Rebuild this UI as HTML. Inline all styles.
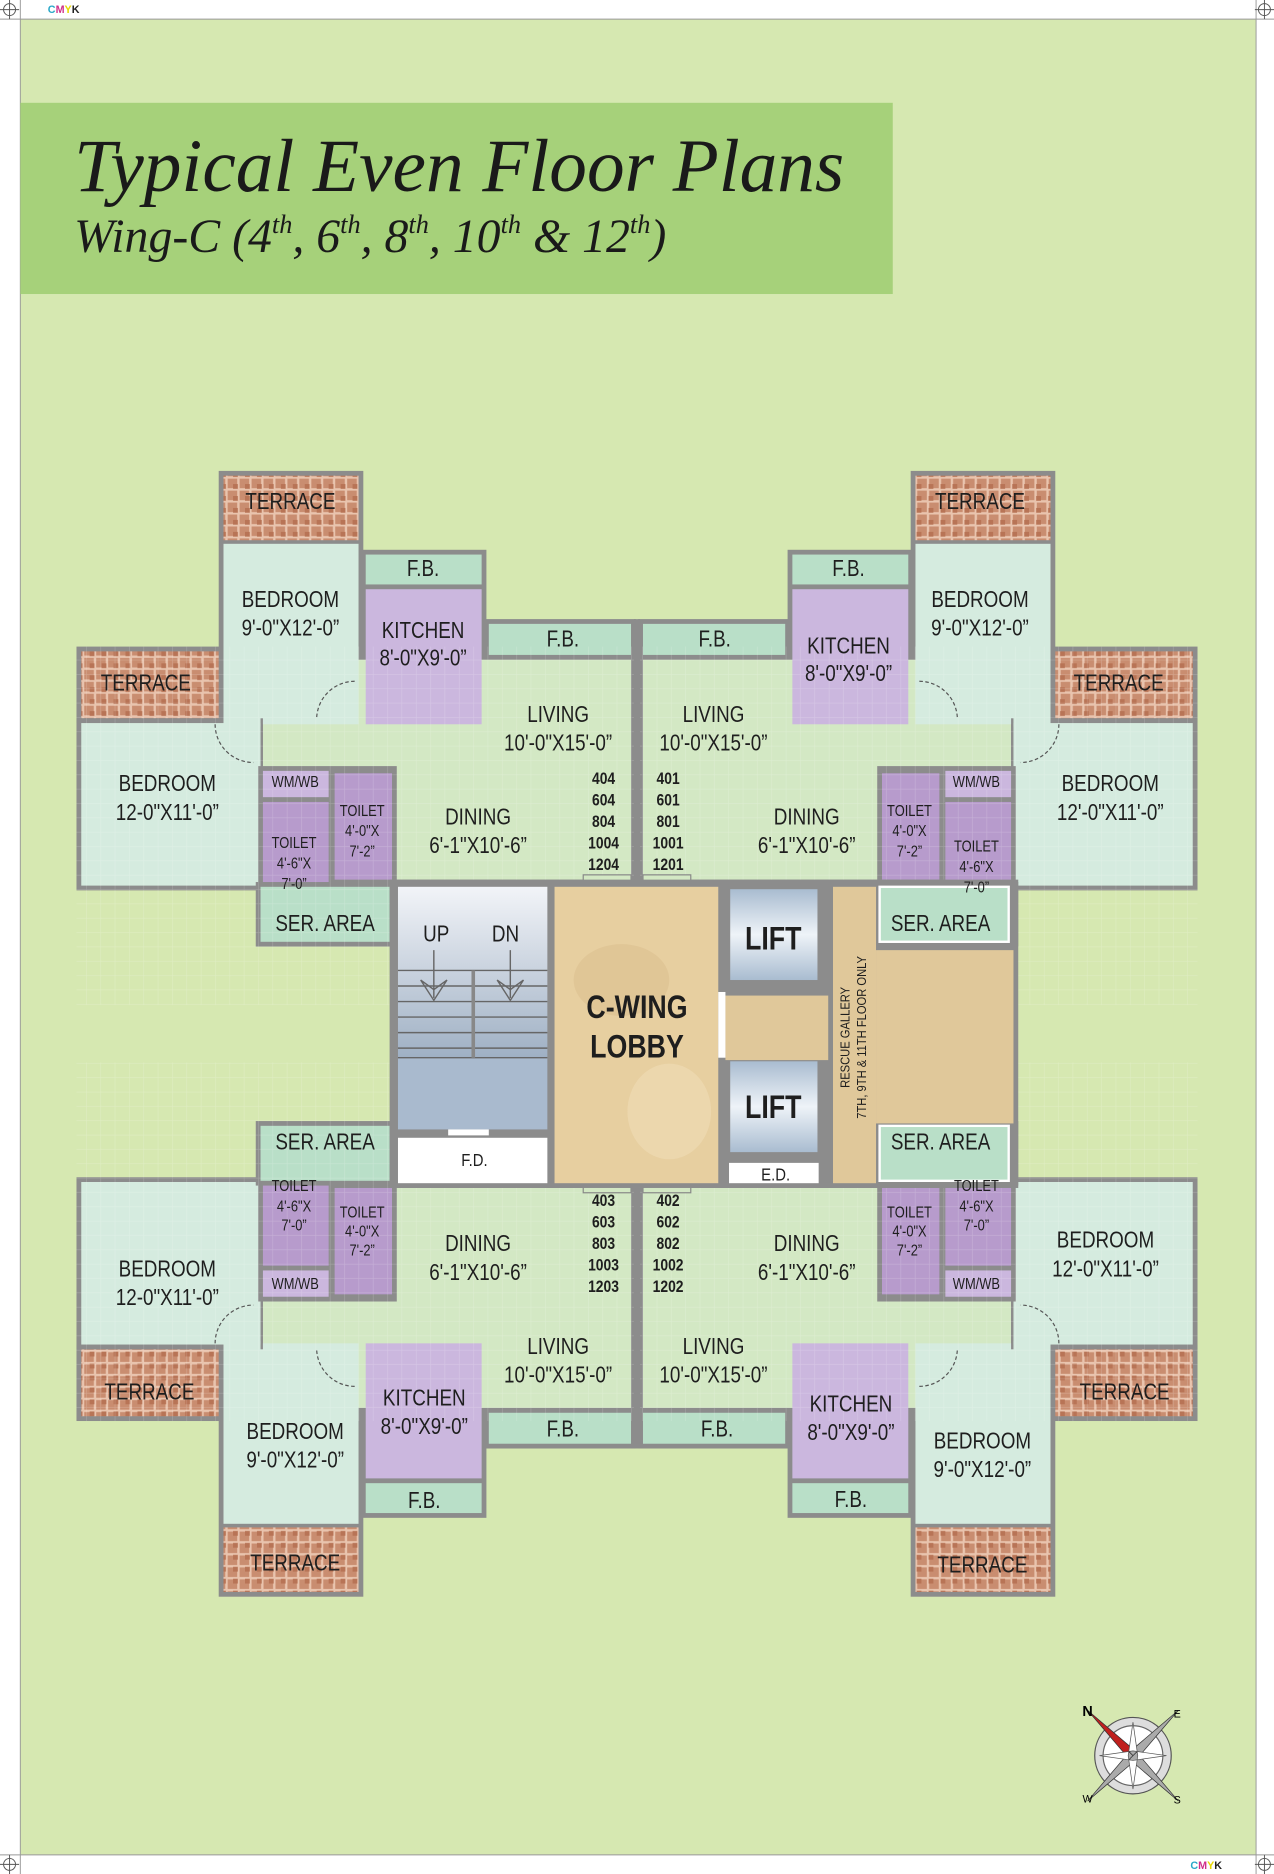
<!DOCTYPE html>
<html><head><meta charset="utf-8"><style>
html,body{margin:0;padding:0;background:#fff}
svg{display:block}
.t text{font-family:"Liberation Sans",sans-serif;fill:#1e1e1e;text-anchor:middle;dominant-baseline:central}
.t text.n{transform-box:fill-box;transform-origin:center;transform:scaleX(0.83)}
.s{font-size:19px}.m{font-size:15px}.xs{font-size:13px}
.b{font-weight:bold;font-size:14px}
</style></head><body>
<svg width="1274" height="1874" viewBox="0 0 1066 1568" xmlns="http://www.w3.org/2000/svg">
<defs>
<pattern id="tile" width="10" height="10" patternUnits="userSpaceOnUse">
<rect width="10" height="10" fill="#e9c4ae"/><rect x="0.5" y="0.5" width="8" height="8" fill="#c98d70"/><rect x="5" y="5" width="4" height="4" fill="#b87456"/>
</pattern>
<pattern id="grid" width="12" height="12" patternUnits="userSpaceOnUse">
<path d="M12 0H0V12" fill="none" stroke="#ffffff" stroke-opacity="0.35" stroke-width="1"/>
</pattern>
<linearGradient id="lift" x1="0" y1="0" x2="0" y2="1"><stop offset="0" stop-color="#a9bcd0"/><stop offset="0.5" stop-color="#eef3f8"/><stop offset="1" stop-color="#a9bcd0"/></linearGradient>
<linearGradient id="st" x1="0" y1="0" x2="0" y2="1"><stop offset="0" stop-color="#f2f4f8"/><stop offset="1" stop-color="#9fb0c4"/></linearGradient>
<g id="u">
<rect x="183" y="394" width="121" height="214" fill="#8c8c8c"/>
<rect x="302" y="460" width="105" height="150" fill="#8c8c8c"/>
<rect x="405" y="518" width="127" height="36" fill="#8c8c8c"/>
<rect x="409" y="522" width="119" height="26" fill="#b9dfc8"/>
<rect x="216" y="548" width="316" height="192" fill="#8c8c8c"/>
<rect x="220" y="552" width="308" height="184" fill="#d3e8c4"/>
<rect x="187" y="398" width="113" height="54" fill="url(#tile)"/>
<rect x="187" y="455" width="113" height="151" fill="#d5ebdf"/>
<rect x="306" y="464" width="97" height="25" fill="#b9dfc8"/>
<rect x="306" y="493" width="97" height="113" fill="#cbb7de"/>
<rect x="64" y="541" width="123" height="64" fill="#8c8c8c"/>
<rect x="68" y="545" width="115" height="56" fill="url(#tile)"/>
<rect x="64" y="601" width="156" height="144" fill="#8c8c8c"/>
<rect x="68" y="605" width="150" height="136" fill="#d5ebdf"/>
<rect x="187" y="545" width="31" height="63" fill="#d5ebdf"/>
<rect x="216" y="641" width="116" height="116" fill="#8c8c8c"/>
<rect x="220" y="645" width="55" height="22" fill="#cbb7de"/>
<rect x="220" y="671" width="55" height="82" fill="#b79bcc"/>
<rect x="280" y="647" width="48" height="89" fill="#b79bcc"/>
<rect x="214" y="738" width="116" height="54" fill="#8c8c8c"/>
<rect x="218" y="742" width="108" height="46" fill="#b9dfc8"/>
<rect x="64" y="541" width="468" height="300" fill="url(#grid)" opacity="0.6"/>
<path d="M265 600 A32 32 0 0 1 297 570" fill="none" stroke="#555" stroke-dasharray="3 2"/>
<path d="M180 606 A32 32 0 0 0 212 638" fill="none" stroke="#555" stroke-dasharray="3 2"/>
<rect x="488" y="732" width="40" height="10" fill="#d3e8c4" stroke="#888"/>
</g>
</defs>
<rect width="1066" height="1568" fill="#fff"/>
<rect x="17" y="16" width="1034" height="1536" fill="#d6e8b1"/>
<line x1="17" y1="0" x2="17" y2="1568" stroke="#999" stroke-width="0.8"/>
<line x1="1051" y1="0" x2="1051" y2="1568" stroke="#999" stroke-width="0.8"/>
<line x1="0" y1="16" x2="1066" y2="16" stroke="#999" stroke-width="0.8"/>
<line x1="0" y1="1552" x2="1066" y2="1552" stroke="#999" stroke-width="0.8"/>
<g fill="none" stroke="#555" stroke-width="0.8">
<circle cx="8" cy="8" r="5"/><path d="M0 8H16M8 0V16"/>
<circle cx="1058" cy="8" r="5"/><path d="M1050 8H1066M1058 0V16"/>
<circle cx="8" cy="1560" r="5"/><path d="M0 1560H16M8 1552V1568"/>
<circle cx="1058" cy="1560" r="5"/><path d="M1050 1560H1066M1058 1552V1568"/>
</g>
<text x="40" y="11" font-family="Liberation Sans" font-weight="bold" font-size="9"><tspan fill="#2aa8c8">C</tspan><tspan fill="#d0308a">M</tspan><tspan fill="#e8d800">Y</tspan><tspan fill="#222">K</tspan></text>
<text x="996" y="1564" font-family="Liberation Sans" font-weight="bold" font-size="9"><tspan fill="#2aa8c8">C</tspan><tspan fill="#d0308a">M</tspan><tspan fill="#e8d800">Y</tspan><tspan fill="#222">K</tspan></text>

<rect x="17" y="86" width="730" height="160" fill="#a6d17a"/>
<text x="62" y="160" font-family="Liberation Serif" font-style="italic" font-size="63" fill="#1a1a1a">Typical Even Floor Plans</text>
<text x="62" y="211" font-family="Liberation Serif" font-style="italic" font-size="40" fill="#1a1a1a">Wing-C (4<tspan font-size="22" dy="-16">th</tspan><tspan dy="16">, 6</tspan><tspan font-size="22" dy="-16">th</tspan><tspan dy="16">, 8</tspan><tspan font-size="22" dy="-16">th</tspan><tspan dy="16">, 10</tspan><tspan font-size="22" dy="-16">th</tspan><tspan dy="16"> &amp; 12</tspan><tspan font-size="22" dy="-16">th</tspan><tspan dy="16">)</tspan></text>

<use href="#u"/>
<use href="#u" transform="matrix(-1 0 0 1 1066 0)"/>
<use href="#u" transform="matrix(1 0 0 -1 0 1730)"/>
<use href="#u" transform="matrix(-1 0 0 -1 1066 1730)"/>
<line x1="533" y1="518" x2="533" y2="1212" stroke="#8c8c8c" stroke-width="5"/>

<rect x="326" y="736" width="526" height="258" fill="#8c8c8c"/>
<rect x="333" y="742" width="125" height="143" fill="url(#st)"/>
<rect x="333" y="885" width="125" height="60" fill="#a9bace"/>
<g stroke="#666" stroke-width="1.2">
<line x1="333" y1="812" x2="458" y2="812"/><line x1="333" y1="825" x2="458" y2="825"/><line x1="333" y1="838" x2="458" y2="838"/><line x1="333" y1="851" x2="458" y2="851"/><line x1="333" y1="864" x2="458" y2="864"/><line x1="333" y1="877" x2="458" y2="877"/><line x1="333" y1="885" x2="458" y2="885"/>
<line x1="396" y1="812" x2="396" y2="885" stroke-width="3" stroke="#888"/>
<line x1="363" y1="795" x2="363" y2="835"/><path d="M352 820 L363 837 L374 820 L363 828Z" fill="none"/>
<line x1="427" y1="795" x2="427" y2="835"/><path d="M416 820 L427 837 L438 820 L427 828Z" fill="none"/>
</g>
<rect x="333" y="952" width="125" height="38" fill="#fff"/>
<rect x="375" y="945" width="34" height="5" fill="#fff"/>
<rect x="464" y="742" width="137" height="248" fill="#e7cfa0"/>
<ellipse cx="520" cy="820" rx="40" ry="30" fill="#dcc090" opacity="0.6"/>
<ellipse cx="560" cy="930" rx="35" ry="40" fill="#f0dcb6" opacity="0.6"/>
<rect x="607" y="833" width="86" height="54" fill="#e0c89a"/>
<rect x="697" y="742" width="36" height="248" fill="#e0c89a"/>
<rect x="733" y="795" width="115" height="145" fill="#e0c89a"/>
<rect x="611" y="744" width="73" height="76" fill="url(#lift)"/>
<rect x="611" y="888" width="73" height="76" fill="url(#lift)"/>
<rect x="610" y="973" width="75" height="17" fill="#fff"/>
<rect x="601" y="830" width="6" height="55" fill="#fff"/>
<rect x="736" y="742" width="108" height="46" fill="#b9dfc8" stroke="#fff" stroke-width="2"/>
<rect x="736" y="942" width="108" height="46" fill="#b9dfc8" stroke="#fff" stroke-width="2"/>

<g class="t">
<text x="365" y="782" class="s n">UP</text><text x="423" y="782" class="s n">DN</text>
<text x="397" y="971" class="m n">F.D.</text><text x="649" y="983" class="m n">E.D.</text>
<text x="533" y="843" font-size="27" font-weight="bold" class="n">C-WING</text>
<text x="533" y="876" font-size="27" font-weight="bold" class="n">LOBBY</text>
<text x="647" y="786" font-size="27" font-weight="bold" class="n">LIFT</text>
<text x="647" y="927" font-size="27" font-weight="bold" class="n">LIFT</text>
<text transform="translate(707 868) rotate(-90) scale(0.85 1)" font-size="11">RESCUE GALLERY</text>
<text transform="translate(721 868) rotate(-90) scale(0.85 1)" font-size="11">7TH, 9TH &amp; 11TH FLOOR ONLY</text>

<text x="243" y="420" class="s n">TERRACE</text><text x="243" y="502" class="s n">BEDROOM</text><text x="243" y="526" class="s n">9'-0"X12'-0”</text>
<text x="354" y="476" class="s n">F.B.</text><text x="354" y="528" class="s n">KITCHEN</text><text x="354" y="551" class="s n">8'-0"X9'-0”</text>
<text x="471" y="535" class="s n">F.B.</text><text x="122" y="572" class="s n">TERRACE</text>
<text x="467" y="598" class="s n">LIVING</text><text x="467" y="622" class="s n">10'-0"X15'-0”</text>
<text x="140" y="656" class="s n">BEDROOM</text><text x="140" y="680" class="s n">12-0"X11'-0”</text>
<text x="247" y="655" class="xs n">WM/WB</text>
<text x="303" y="679" class="xs n">TOILET</text><text x="303" y="696" class="xs n">4'-0"X</text><text x="303" y="713" class="xs n">7'-2”</text>
<text x="246" y="706" class="xs n">TOILET</text><text x="246" y="723" class="xs n">4'-6"X</text><text x="246" y="740" class="xs n">7'-0”</text>
<text x="400" y="684" class="s n">DINING</text><text x="400" y="708" class="s n">6'-1"X10'-6”</text>
<text x="505" y="652" class="b n">404</text><text x="505" y="670" class="b n">604</text><text x="505" y="688" class="b n">804</text><text x="505" y="706" class="b n">1004</text><text x="505" y="724" class="b n">1204</text>
<text x="272" y="773" class="s n">SER. AREA</text>

<text x="820" y="420" class="s n">TERRACE</text><text x="820" y="502" class="s n">BEDROOM</text><text x="820" y="526" class="s n">9'-0"X12'-0”</text>
<text x="710" y="476" class="s n">F.B.</text><text x="710" y="541" class="s n">KITCHEN</text><text x="710" y="564" class="s n">8'-0"X9'-0”</text>
<text x="598" y="535" class="s n">F.B.</text><text x="936" y="572" class="s n">TERRACE</text>
<text x="597" y="598" class="s n">LIVING</text><text x="597" y="622" class="s n">10'-0"X15'-0”</text>
<text x="929" y="656" class="s n">BEDROOM</text><text x="929" y="680" class="s n">12'-0"X11'-0”</text>
<text x="817" y="655" class="xs n">WM/WB</text>
<text x="761" y="679" class="xs n">TOILET</text><text x="761" y="696" class="xs n">4'-0"X</text><text x="761" y="713" class="xs n">7'-2”</text>
<text x="817" y="709" class="xs n">TOILET</text><text x="817" y="726" class="xs n">4'-6"X</text><text x="817" y="743" class="xs n">7'-0”</text>
<text x="675" y="684" class="s n">DINING</text><text x="675" y="708" class="s n">6'-1"X10'-6”</text>
<text x="559" y="652" class="b n">401</text><text x="559" y="670" class="b n">601</text><text x="559" y="688" class="b n">801</text><text x="559" y="706" class="b n">1001</text><text x="559" y="724" class="b n">1201</text>
<text x="787" y="773" class="s n">SER. AREA</text>

<text x="272" y="956" class="s n">SER. AREA</text>
<text x="246" y="993" class="xs n">TOILET</text><text x="246" y="1010" class="xs n">4'-6"X</text><text x="246" y="1026" class="xs n">7'-0”</text>
<text x="303" y="1015" class="xs n">TOILET</text><text x="303" y="1031" class="xs n">4'-0"X</text><text x="303" y="1047" class="xs n">7'-2”</text>
<text x="247" y="1075" class="xs n">WM/WB</text>
<text x="140" y="1062" class="s n">BEDROOM</text><text x="140" y="1086" class="s n">12-0"X11'-0”</text>
<text x="400" y="1041" class="s n">DINING</text><text x="400" y="1065" class="s n">6'-1"X10'-6”</text>
<text x="505" y="1005" class="b n">403</text><text x="505" y="1023" class="b n">603</text><text x="505" y="1041" class="b n">803</text><text x="505" y="1059" class="b n">1003</text><text x="505" y="1077" class="b n">1203</text>
<text x="467" y="1127" class="s n">LIVING</text><text x="467" y="1151" class="s n">10'-0"X15'-0”</text>
<text x="125" y="1165" class="s n">TERRACE</text>
<text x="355" y="1170" class="s n">KITCHEN</text><text x="355" y="1194" class="s n">8'-0"X9'-0”</text>
<text x="471" y="1196" class="s n">F.B.</text>
<text x="247" y="1198" class="s n">BEDROOM</text><text x="247" y="1222" class="s n">9'-0"X12'-0”</text>
<text x="355" y="1256" class="s n">F.B.</text><text x="247" y="1308" class="s n">TERRACE</text>

<text x="787" y="956" class="s n">SER. AREA</text>
<text x="817" y="993" class="xs n">TOILET</text><text x="817" y="1010" class="xs n">4'-6"X</text><text x="817" y="1026" class="xs n">7'-0”</text>
<text x="761" y="1015" class="xs n">TOILET</text><text x="761" y="1031" class="xs n">4'-0"X</text><text x="761" y="1047" class="xs n">7'-2”</text>
<text x="817" y="1075" class="xs n">WM/WB</text>
<text x="925" y="1038" class="s n">BEDROOM</text><text x="925" y="1062" class="s n">12'-0"X11'-0”</text>
<text x="675" y="1041" class="s n">DINING</text><text x="675" y="1065" class="s n">6'-1"X10'-6”</text>
<text x="559" y="1005" class="b n">402</text><text x="559" y="1023" class="b n">602</text><text x="559" y="1041" class="b n">802</text><text x="559" y="1059" class="b n">1002</text><text x="559" y="1077" class="b n">1202</text>
<text x="597" y="1127" class="s n">LIVING</text><text x="597" y="1151" class="s n">10'-0"X15'-0”</text>
<text x="941" y="1165" class="s n">TERRACE</text>
<text x="712" y="1175" class="s n">KITCHEN</text><text x="712" y="1199" class="s n">8'-0"X9'-0”</text>
<text x="600" y="1196" class="s n">F.B.</text>
<text x="822" y="1206" class="s n">BEDROOM</text><text x="822" y="1230" class="s n">9'-0"X12'-0”</text>
<text x="712" y="1255" class="s n">F.B.</text><text x="822" y="1310" class="s n">TERRACE</text>
</g>

<g transform="translate(948 1469)">
<circle r="32" fill="#ddd" stroke="#555"/>
<circle r="25" fill="#fff" stroke="#666"/>
<path d="M-38 -38 L3 -3 L-3 3Z" fill="#c0201e" stroke="#333" stroke-width="0.6"/>
<path d="M38 -38 L3 3 L-3 -3Z" fill="#aaa" stroke="#333" stroke-width="0.6"/>
<path d="M-38 38 L-3 -3 L3 3Z" fill="#aaa" stroke="#333" stroke-width="0.6"/>
<path d="M38 38 L-3 3 L3 -3Z" fill="#aaa" stroke="#333" stroke-width="0.6"/>
<path d="M0 -28 L4 0 L0 28 L-4 0Z M-28 0 L0 4 L28 0 L0 -4Z" fill="#fff" stroke="#555" stroke-width="0.6"/>
<text x="-38" y="-33" font-family="Liberation Sans" font-weight="bold" font-size="12" text-anchor="middle">N</text>
<text x="37" y="-32" font-family="Liberation Sans" font-size="9" text-anchor="middle">E</text>
<text x="-38" y="39" font-family="Liberation Sans" font-size="9" text-anchor="middle">W</text>
<text x="37" y="40" font-family="Liberation Sans" font-size="9" text-anchor="middle">S</text>
</g>
</svg>
</body></html>
